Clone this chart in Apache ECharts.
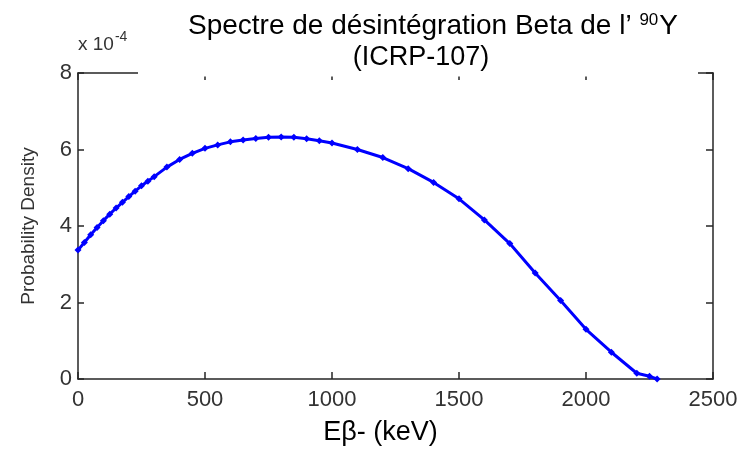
<!DOCTYPE html>
<html>
<head>
<meta charset="utf-8">
<script src="https://cdn.jsdelivr.net/npm/echarts@6/dist/echarts.min.js"></script>
<style>html,body{margin:0;padding:0;background:#fff}#c{width:742px;height:451px}</style>
</head>
<body>
<div id="c"></div>
<script>
// Energy (keV)
const energies = [0,25,50,75,100,125,150,175,200,225,250,275,300,350,400,450,500,550,600,650,700,750,800,850,900,950,1000,1100,1200,1300,1400,1500,1600,1700,1800,1900,2000,2100,2200,2250,2280];
// Probability density (x 1e-4)
const density = [3.37,3.57,3.77,3.96,4.14,4.31,4.47,4.62,4.77,4.91,5.05,5.17,5.29,5.54,5.74,5.90,6.03,6.12,6.20,6.25,6.29,6.32,6.33,6.32,6.28,6.23,6.17,6.00,5.79,5.50,5.14,4.71,4.16,3.54,2.77,2.05,1.30,0.70,0.15,0.07,0.00];
const xTicks = ['0','500','1000','1500','2000','2500'];
const yTicks = ['0','2','4','6','8'];

const FONT = 'Liberation Sans, Arial, sans-serif';
const axisColor = '#262626';
const chart = echarts.init(document.getElementById('c'), null, {renderer: 'canvas'});
const data = energies.map((e, i) => [e, density[i]]);

function axisBase(len) {
  return {
    axisLine: {show: true, onZero: false, lineStyle: {color: axisColor, width: 1.5}},
    axisTick: {show: true, inside: true, length: len, lineStyle: {color: axisColor, width: 1.5}},
    splitLine: {show: false}
  };
}

chart.setOption({
  animation: false,
  backgroundColor: '#fff',
  grid: {left: 78, right: 29, top: 73, bottom: 69, containLabel: false},
  xAxis: [
    Object.assign(axisBase(7), {
      type: 'value', position: 'bottom', min: 0, max: 2500, interval: 500,
      axisLabel: {show: true, margin: 10, fontSize: 22, color: '#333', fontFamily: FONT,
        formatter: v => xTicks[Math.round(v / 500)]},
      name: 'Eβ- (keV)', nameLocation: 'middle', nameGap: 40,
      nameTextStyle: {fontSize: 27, color: '#000', fontFamily: FONT, padding: [0, 30, 0, 0]}
    }),
    Object.assign(axisBase(7), {
      type: 'value', position: 'top', min: 0, max: 2500, interval: 500,
      axisLabel: {show: false}
    })
  ],
  yAxis: [
    Object.assign(axisBase(6), {
      type: 'value', position: 'left', min: 0, max: 8, interval: 2,
      axisLabel: {show: true, margin: 6, fontSize: 22, color: '#333', fontFamily: FONT,
        formatter: v => yTicks[Math.round(v / 2)]},
      name: 'Probability Density', nameLocation: 'middle', nameGap: 40,
      nameTextStyle: {fontSize: 19, color: '#333', fontFamily: FONT}
    }),
    Object.assign(axisBase(7), {
      type: 'value', position: 'right', min: 0, max: 8, interval: 2,
      axisLabel: {show: false}
    })
  ],
  graphic: [
    {type: 'rect', z: 100, shape: {x: 138, y: 50, width: 560, height: 26.5}, style: {fill: '#fff'}},
    {type: 'text', z: 101, x: 433, y: 26, style: {
      text: '{a|Spectre de désintégration Beta de l’ }{s|90}{a|Y}',
      align: 'center', verticalAlign: 'middle',
      rich: {
        a: {fontSize: 28, fontFamily: FONT, fill: '#000', verticalAlign: 'bottom'},
        s: {fontSize: 17, fontFamily: FONT, fill: '#000', verticalAlign: 'top', padding: [0, 1, 11, 0]}
      }
    }},
    {type: 'text', z: 101, x: 421, y: 58, style: {
      text: '(ICRP-107)', align: 'center', verticalAlign: 'middle',
      fontSize: 27, fontFamily: FONT, fill: '#000'
    }},
    {type: 'text', z: 101, x: 78, y: 42, style: {
      text: '{a|x 10}{s|-4}', align: 'left', verticalAlign: 'middle',
      rich: {
        a: {fontSize: 19, fontFamily: FONT, fill: '#333', verticalAlign: 'bottom'},
        s: {fontSize: 14, fontFamily: FONT, fill: '#333', verticalAlign: 'top', padding: [0, 0, 10, 1]}
      }
    }}
  ],
  series: [{
    type: 'line', xAxisIndex: 0, yAxisIndex: 0, data: data,
    smooth: false, symbol: 'diamond', symbolSize: 7, showAllSymbol: true,
    lineStyle: {color: '#0000ff', width: 3},
    itemStyle: {color: '#0000ff'}
  }]
});
</script>
</body>
</html>
